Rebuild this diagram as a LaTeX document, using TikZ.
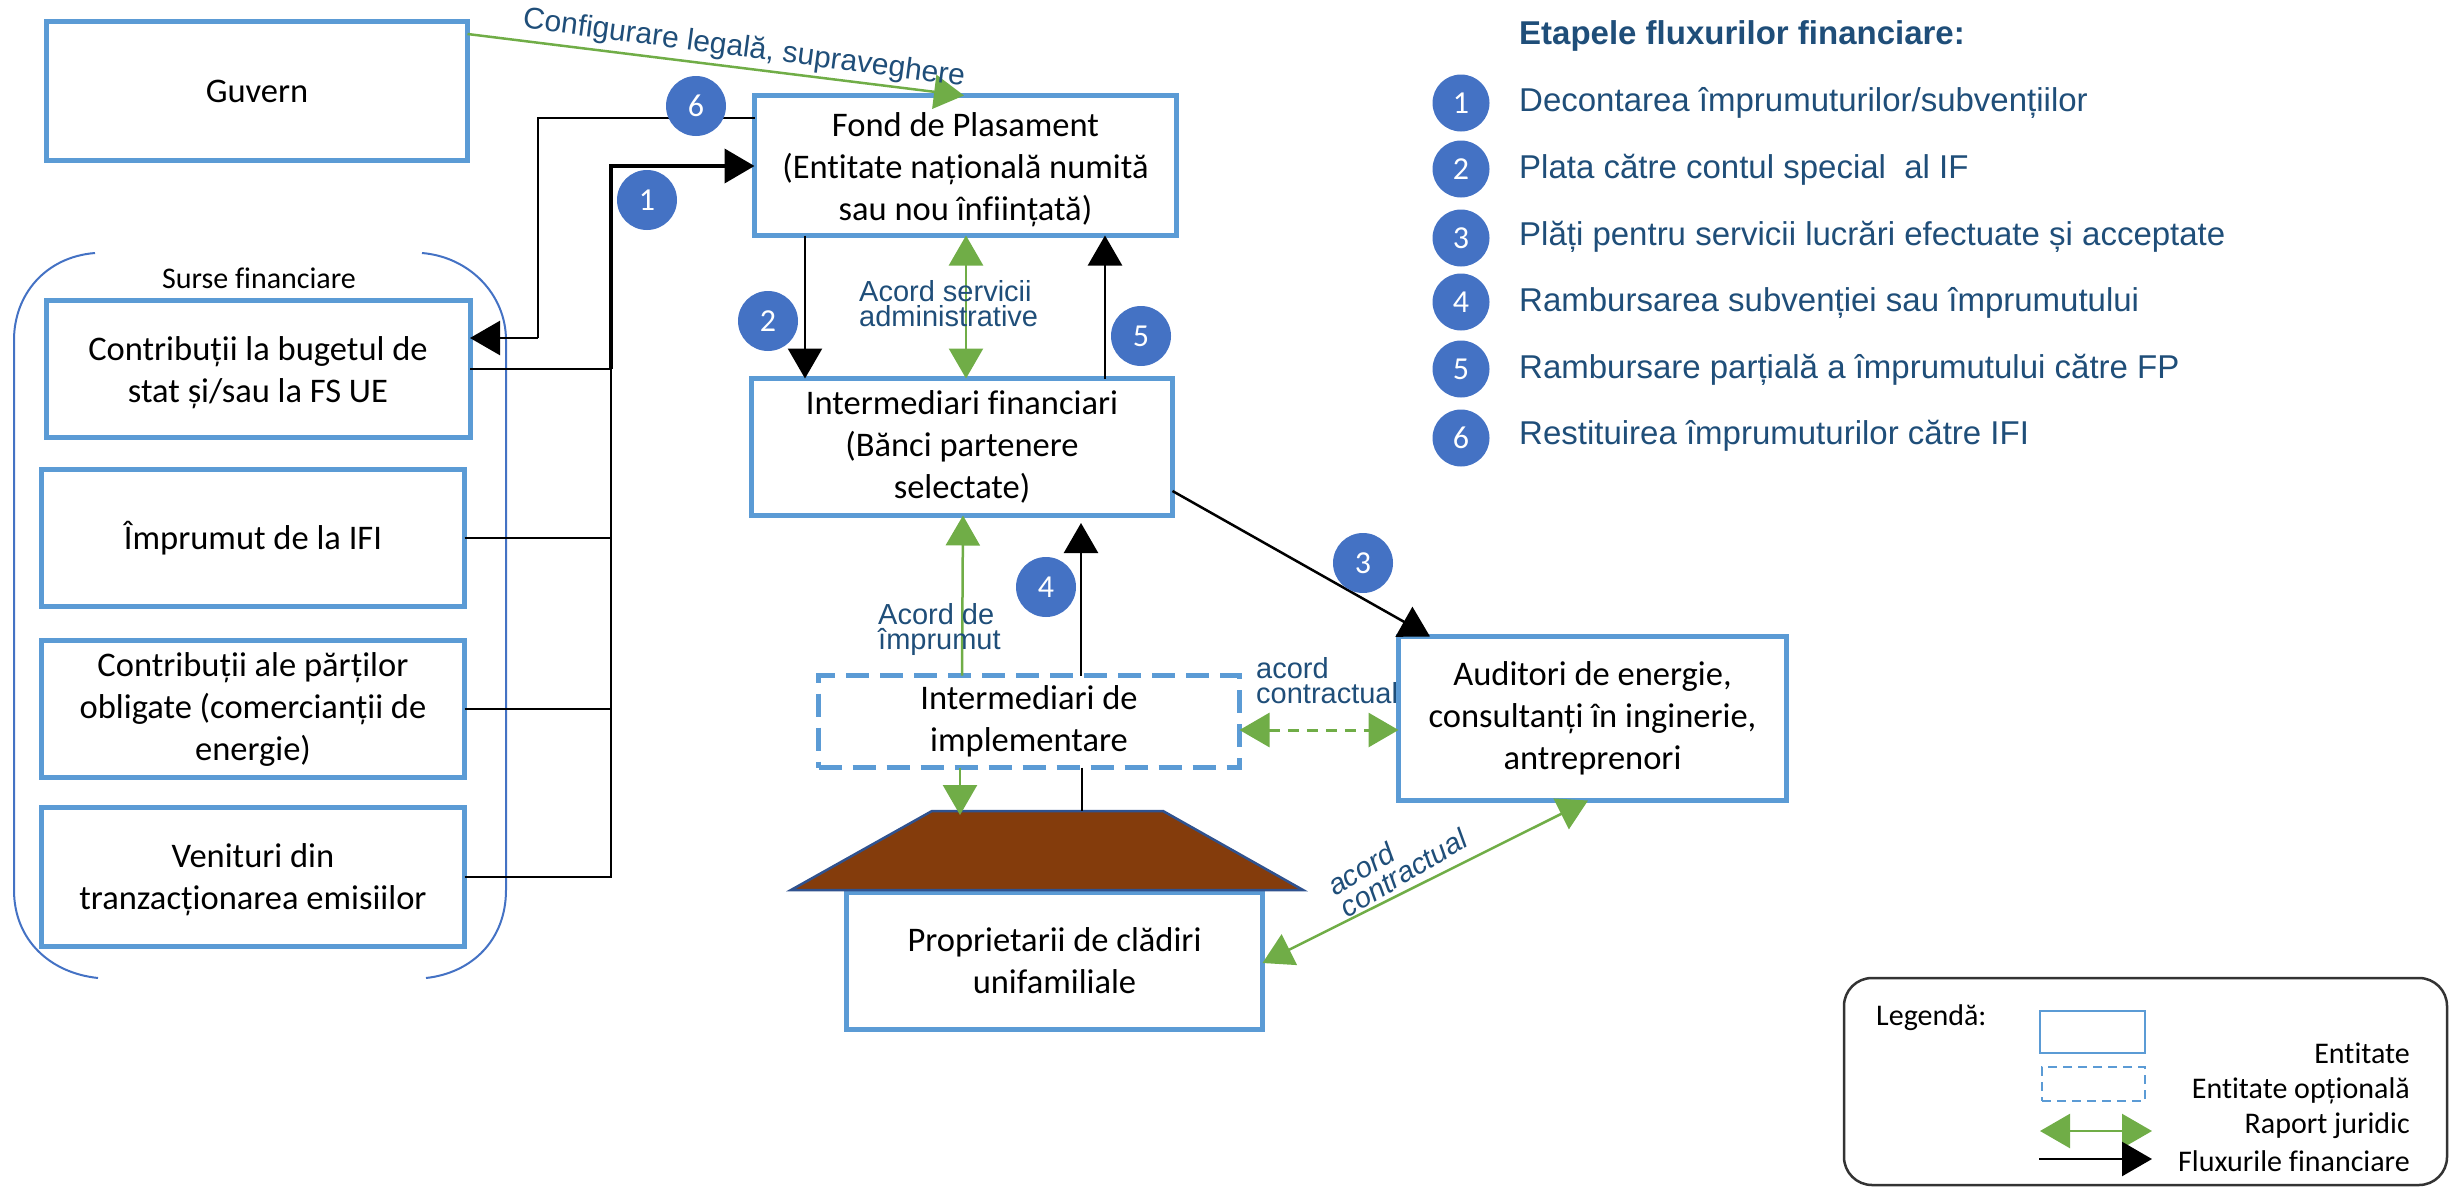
\documentclass[tikz,border=0pt]{standalone}
\usepackage{fontspec}
\setmainfont{Carlito}[Ligatures=NoCommon]
\newfontfamily\labf{Liberation Sans}
\usetikzlibrary{arrows.meta,calc}
\definecolor{boxblue}{HTML}{5B9BD5}
\definecolor{circblue}{HTML}{4472C4}
\definecolor{labblue}{HTML}{1F4E79}
\definecolor{grn}{HTML}{70AD47}
\definecolor{roofc}{HTML}{843C0C}
\definecolor{roofe}{HTML}{2F528F}
\tikzset{
  ent/.style={draw=boxblue,line width=5pt,fill=white,align=center,inner sep=0pt,outer sep=0pt,font=\fontsize{34.5}{42}\selectfont},
  entd/.style={ent,dash pattern=on 23pt off 11pt},
  num/.style={circle,fill=circblue,text=white,minimum size=60pt,inner sep=0pt,font=\fontsize{32}{36}\selectfont},
  numk/.style={num,minimum size=57pt},
  fin/.style={draw=black,line width=2.5pt},
  finb/.style={fin,-{Triangle[length=30pt,width=34pt]}},
  leg/.style={draw=grn,line width=2.5pt},
  legb/.style={leg,-{Triangle[length=30pt,width=34pt,fill=grn]}},
  legd/.style={leg,{Triangle[length=30pt,width=34pt,fill=grn]}-{Triangle[length=30pt,width=34pt,fill=grn]}},
  lab/.style={text=labblue,align=left,inner sep=0pt,font=\labf\fontsize{29}{25}\selectfont},
  stepitem/.style={anchor=west,text=labblue,inner sep=0pt,font=\labf\fontsize{33}{36}\selectfont},
  legt/.style={anchor=east,inner sep=0pt,font=\fontsize{30}{32}\selectfont},
}
\begin{document}
\begin{tikzpicture}[x=1pt,y=-1pt]
\useasboundingbox (0,0) rectangle (2453,1189);
% source group bracket
\draw[circblue,line width=2pt] (95,253) .. controls (45,257) and (14,295) .. (14,340) -- (14,890) .. controls (14,940) and (50,973) .. (98,978);
\draw[circblue,line width=2pt] (422,253) .. controls (470,257) and (506,295) .. (506,340) -- (506,890) .. controls (506,940) and (472,973) .. (426,978);
% entities
\node[ent,minimum width=421pt,minimum height=139pt] (guv) at (257,91) {Guvern};
\node[ent,minimum width=422pt,minimum height=140pt] (fond) at (965.5,165.5) {\rule{0pt}{33pt}Fond de Plasament\\(Entitate națională numită\\sau nou înființată)};
\node[ent,minimum width=424pt,minimum height=137pt] (s1) at (258,369) {\rule{0pt}{31pt}Contribuții la bugetul de\\stat și/sau la FS UE};
\node[ent,minimum width=423pt,minimum height=137pt] (s2) at (253,538) {Împrumut de la IFI};
\node[ent,minimum width=423pt,minimum height=137pt] (s3) at (253,709) {Contribuții ale părților\\obligate (comercianții de\\energie)};
\node[ent,minimum width=423pt,minimum height=139pt] (s4) at (253,877) {\rule{0pt}{29pt}Venituri din\\tranzacționarea emisiilor};
\node[ent,minimum width=421pt,minimum height=137pt] (ifin) at (962,447) {Intermediari financiari\\(Bănci partenere\\selectate)};
\node[entd,minimum width=421pt,minimum height=92pt] (impl) at (1029,721.5) {Intermediari de\\implementare};
\node[ent,minimum width=388pt,minimum height=164pt] (aud) at (1592.5,718.5) {Auditori de energie,\\consultanți în inginerie,\\antreprenori};
\node[ent,minimum width=416pt,minimum height=137pt] (prop) at (1054.5,961) {Proprietarii de clădiri\\unifamiliale};
\fill[roofc,draw=roofe,line width=2.5pt] (932,811) -- (1163,811) -- (1303,890) -- (791,890) -- cycle;
\coordinate (rooftop) at (1047,811);
\node[font=\fontsize{30}{32}\selectfont,inner sep=0pt] (surse) at (259,278) {Surse financiare};
% financial flows
\coordinate (bus) at (611,166);
\draw[fin] (fond.west |- 0,118) -- (538,118) -- (538,338);
\draw[finb] (538,338) -- (s1.east |- 0,338);
\draw[finb,line width=4pt] (bus |- s1.east) -- (bus) -- (fond.west |- bus);
\draw[fin] (s1.east) -- (bus |- s1.east);
\draw[fin] (s2.east) -- (bus |- s2.east);
\draw[fin] (s3.east) -- (bus |- s3.east);
\draw[fin] (s4.east) -- (bus |- s4.east) -- (bus |- s1.east);
\draw[finb] (805,0 |- fond.south) -- (805,0 |- ifin.north);
\draw[finb] (1105,0 |- ifin.north) -- (1105,0 |- fond.south);
\draw[finb] (1081,0 |- impl.north) -- (1081,523);
\draw[fin] (1082,0 |- impl.south) -- (1082,0 |- rooftop);
\draw[finb] (ifin.east |- 0,491) -- (1430,0 |- aud.north);
% legal relations
\draw[legb] (guv.east |- 0,34) -- (964,0 |- fond.north);
\draw[legd] (966,0 |- fond.south) -- (966,0 |- ifin.north);
\draw[legb] (962,0 |- impl.north) -- (963,0 |- ifin.south);
\draw[legb] (960,0 |- impl.south) -- (960,815);
\draw[legd,line width=3pt,dash pattern=on 11pt off 8pt] (impl.east |- 0,730) -- (aud.west |- 0,730);
\draw[legd] (1588,0 |- aud.south) -- (prop.east |- 0,963);
% relation labels
\node[lab,rotate=-7.5,font=\labf\fontsize{30}{32}\selectfont] (l1) at (744,49) {Configurare legală, supraveghere};
\node[lab,anchor=north west] (l2) at (859,280) {Acord servicii\\administrative};
\node[lab,anchor=north west] (l3) at (878,603) {Acord de\\împrumut};
\node[lab,anchor=north west] (l4) at (1256,657) {acord\\contractual};
\node[lab,rotate=31,font=\labf\itshape\fontsize{29}{25}\selectfont] (l5) at (1397,862) {acord\\contractual};
% numbers on flows
\node[num] (n6) at (696,106) {6};
\node[num] (n1) at (647,200) {1};
\node[num] (n2) at (768,321) {2};
\node[num] (n5) at (1141,336) {5};
\node[num] (n4) at (1046,587) {4};
\node[num] (n3) at (1363,563) {3};
% steps list
\node[stepitem,font=\labf\bfseries\fontsize{33}{36}\selectfont] (title) at (1519,36) {Etapele fluxurilor financiare:};
\node[numk] (k1) at (1461,103) {1};
\node[numk] (k2) at (1461,169) {2};
\node[numk] (k3) at (1461,238) {3};
\node[numk] (k4) at (1461,302) {4};
\node[numk] (k5) at (1461,369) {5};
\node[numk] (k6) at (1461,438) {6};
\node[stepitem] (t1) at (1519,103) {Decontarea împrumuturilor/subvențiilor};
\node[stepitem] (t2) at (1519,170) {Plata către contul special\ \ al IF};
\node[stepitem] (t3) at (1519,237) {Plăți pentru servicii lucrări efectuate și acceptate};
\node[stepitem] (t4) at (1519,303) {Rambursarea subvenției sau împrumutului};
\node[stepitem] (t5) at (1519,370) {Rambursare parțială a împrumutului către FP};
\node[stepitem] (t6) at (1519,436) {Restituirea împrumuturilor către IFI};
% legend
\node[draw=black!80,line width=2.5pt,rounded corners=28pt,minimum width=603pt,minimum height=207pt,inner sep=0pt] (legbox) at (2145.5,1081.5) {};
\node[anchor=west,inner sep=0pt,font=\fontsize{30}{32}\selectfont] (lg) at (1876,1018) {Legendă:};
\node[draw=boxblue,line width=2.5pt,minimum width=105pt,minimum height=42pt,inner sep=0pt] (lg1) at (2092.5,1032) {};
\node[draw=boxblue,line width=2.5pt,dash pattern=on 9pt off 6pt,minimum width=103pt,minimum height=34pt,inner sep=0pt] (lg2) at (2093.5,1084) {};
\coordinate (ga) at (2040,1131);
\coordinate (gb) at (2152,1131);
\coordinate (ba) at (2039,1159);
\coordinate (bb) at (2152,1159);
\draw[legd] (ga) -- (gb);
\draw[finb] (ba) -- (bb);
\node[legt] (e1) at (2410,1053) {Entitate};
\node[legt] (e2) at (2410,1091) {Entitate opțională};
\node[legt] (e3) at (2410,1126) {Raport juridic};
\node[legt] (e4) at (2410,1161) {Fluxurile financiare};
\end{tikzpicture}
\end{document}
